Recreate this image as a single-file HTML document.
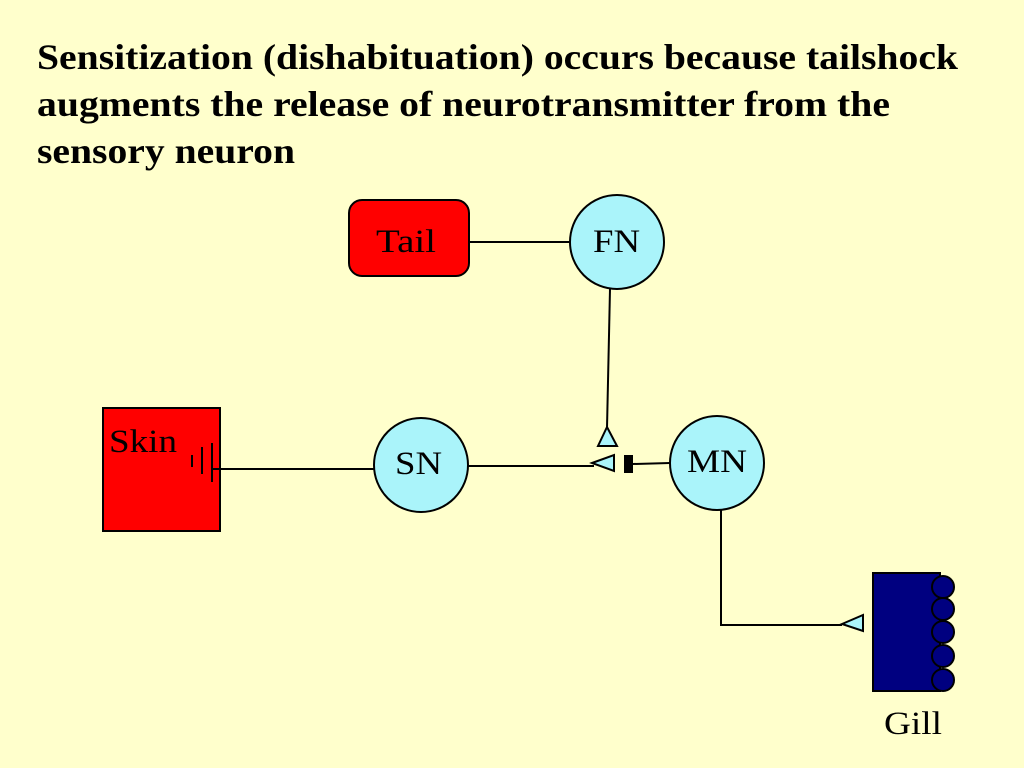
<!DOCTYPE html>
<html><head><style>
body{margin:0;background:#FFFFCC;}
svg{display:block}
text{font-family:"Liberation Serif",serif;}
</style></head><body>
<svg width="1024" height="768" viewBox="0 0 1024 768">
<rect width="1024" height="768" fill="#FFFFCC"/>
<g font-weight="bold" font-size="36" fill="#000">
<text x="37" y="69" textLength="921" lengthAdjust="spacingAndGlyphs">Sensitization (dishabituation) occurs because tailshock</text>
<text x="37" y="116" textLength="853" lengthAdjust="spacingAndGlyphs">augments the release of neurotransmitter from the</text>
<text x="37" y="163" textLength="258" lengthAdjust="spacingAndGlyphs">sensory neuron</text>
</g>
<rect x="349" y="200" width="120" height="76" rx="13" fill="#FF0000" stroke="#000" stroke-width="2"/>
<rect x="103" y="408" width="117" height="123" fill="#FF0000" stroke="#000" stroke-width="2"/>
<g stroke="#000" stroke-width="2" fill="none">
<line x1="469" y1="242" x2="570" y2="242"/>
<line x1="610" y1="289" x2="607" y2="428"/>
<line x1="212" y1="469" x2="374" y2="469"/>
<line x1="468" y1="466" x2="594" y2="466"/>
<line x1="633" y1="464" x2="670" y2="463"/>
<polyline points="721,510 721,625 842,625"/>
<line x1="192" y1="455" x2="192" y2="467"/>
<line x1="202" y1="447" x2="202" y2="474"/>
<line x1="212" y1="443" x2="212" y2="482"/>
</g>
<text x="376" y="252" font-size="33" textLength="60" lengthAdjust="spacingAndGlyphs">Tail</text>
<text x="109" y="452" font-size="33" textLength="68" lengthAdjust="spacingAndGlyphs">Skin</text>
<g fill="#AAF4FA" stroke="#000" stroke-width="2">
<circle cx="617" cy="242" r="47"/>
<circle cx="421" cy="465" r="47"/>
<circle cx="717" cy="463" r="47"/>
<polygon points="607,427 598,446 617,446"/>
<polygon points="592,463 614,455 614,471"/>
<polygon points="842,624 863,615 863,631"/>
</g>
<rect x="624" y="455" width="9" height="18" fill="#000"/>
<g font-size="33">
<text x="593" y="252" textLength="47" lengthAdjust="spacingAndGlyphs">FN</text>
<text x="395" y="474" textLength="47" lengthAdjust="spacingAndGlyphs">SN</text>
<text x="687" y="472" textLength="60" lengthAdjust="spacingAndGlyphs">MN</text>
<text x="884" y="734" textLength="58" lengthAdjust="spacingAndGlyphs">Gill</text>
</g>
<rect x="873" y="573" width="67" height="118" fill="#000080" stroke="#000" stroke-width="2"/>
<g fill="#000080" stroke="#000" stroke-width="2">
<circle cx="943" cy="587" r="11"/>
<circle cx="943" cy="609" r="11"/>
<circle cx="943" cy="632" r="11"/>
<circle cx="943" cy="656" r="11"/>
<circle cx="943" cy="680" r="11"/>
</g>
</svg>
</body></html>
